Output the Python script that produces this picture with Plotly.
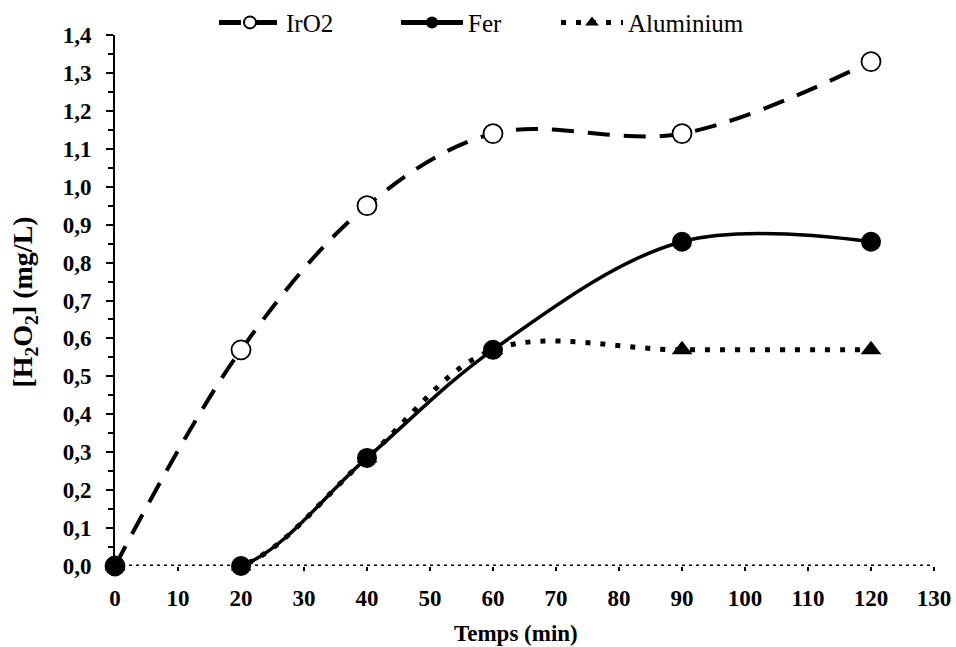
import plotly.graph_objects as go

# Sampling times (min)
temps = [0, 20, 40, 60, 90, 120]

# H2O2 concentration (mg/L) for each electrode material
iro2 = [0.0, 0.57, 0.95, 1.14, 1.14, 1.33]
fer = [0.0, 0.0, 0.285, 0.57, 0.855, 0.855]
aluminium = [0.0, 0.0, 0.285, 0.57, 0.57, 0.57]

x_ticks = list(range(0, 131, 10))
y_ticks = [round(i * 0.1, 1) for i in range(15)]
y_labels = [f"{v:.1f}".replace(".", ",") for v in y_ticks]

serif = "Liberation Serif, Times New Roman, serif"

fig = go.Figure()

# Dotted baseline standing in for the x axis line
fig.add_shape(type="line", xref="x", yref="y", x0=0, x1=130, y0=0, y1=0,
              line=dict(color="black", width=3, dash="3px,4px"), layer="below")

fig.add_trace(go.Scatter(
    x=temps, y=iro2, name="IrO2", mode="lines+markers", legend="legend",
    line=dict(color="black", width=4, dash="22px,14px", shape="spline", smoothing=1),
    marker=dict(symbol="circle", size=19, color="white", line=dict(color="black", width=1.8)),
    cliponaxis=False, showlegend=True,
))
fig.add_trace(go.Scatter(
    x=temps, y=aluminium, name="Aluminium", mode="lines+markers", legend="legend3",
    line=dict(color="black", width=5, dash="5px,10px", shape="spline", smoothing=1),
    marker=dict(symbol="triangle-up", size=18, color="black"),
    cliponaxis=False, showlegend=True,
))
fig.add_trace(go.Scatter(
    x=temps, y=fer, name="Fer", mode="lines+markers", legend="legend2",
    line=dict(color="black", width=3.5, shape="spline", smoothing=1),
    marker=dict(symbol="circle", size=20, color="black"),
    cliponaxis=False, showlegend=True,
))

# One legend box per series, laid out in a row above the plot
legend_common = dict(orientation="h", xref="container", xanchor="left",
                     yref="container", y=0.965, yanchor="middle",
                     font=dict(family=serif, size=25), itemwidth=62, itemsizing="constant",
                     bgcolor="rgba(0,0,0,0)", visible=True)

fig.update_layout(
    width=956, height=647,
    showlegend=True,
    margin=dict(l=115, r=22, t=35, b=81, autoexpand=False),
    paper_bgcolor="white", plot_bgcolor="white",
    font=dict(family=serif, color="black", size=20),
    legend=dict(x=214 / 956, **legend_common),
    legend2=dict(x=396 / 956, **legend_common),
    legend3=dict(x=556 / 956, **legend_common),
    xaxis=dict(
        range=[0, 130], tickvals=x_ticks, ticktext=[str(v) for v in x_ticks],
        showgrid=False, zeroline=False, showline=False, automargin=False,
        ticks="outside", ticklen=4, tickwidth=1.5, tickcolor="black",
        ticklabelstandoff=7,
        tickfont=dict(family=serif, size=23, weight="bold"),
    ),
    yaxis=dict(
        range=[0, 1.4], tickvals=y_ticks, ticktext=y_labels,
        showgrid=False, zeroline=False, showline=True, linecolor="black", linewidth=2,
        automargin=False,
        ticks="outside", ticklen=7, tickwidth=1.5, tickcolor="black",
        ticklabelstandoff=10,
        minor=dict(dtick=0.05, ticks="outside", ticklen=5, tickwidth=1.5, tickcolor="black", showgrid=False),
        tickfont=dict(family=serif, size=23, weight="bold"),
    ),
    annotations=[
        dict(
            text="[H<sub>2</sub>O<sub>2</sub>] (mg/L)", textangle=-90,
            xref="paper", yref="paper", x=-0.1105, y=0.497,
            xanchor="center", yanchor="middle", showarrow=False,
            font=dict(family=serif, size=28, weight="bold", color="black"),
        ),
        dict(
            text="Temps (min)",
            xref="paper", yref="paper", x=(516 - 115) / 819, y=(566 - 633) / 531,
            xanchor="center", yanchor="middle", showarrow=False,
            font=dict(family=serif, size=23, weight="bold", color="black"),
        ),
    ],
)

fig.write_html("out.html")
